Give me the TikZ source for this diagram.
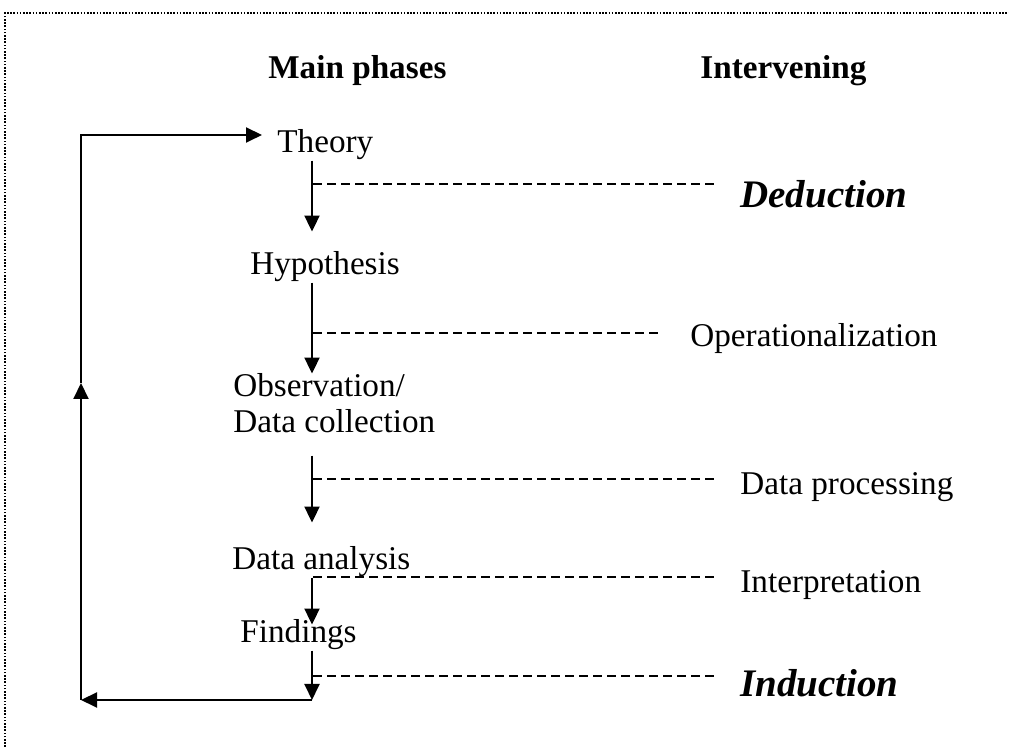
\documentclass[tikz,border=0pt]{standalone}
\usepackage{fontspec}
\setmainfont{Liberation Serif}
\usetikzlibrary{arrows.meta}

\begin{document}
\begin{tikzpicture}[x=0.5pt,y=-0.5pt,
    phase/.style={inner sep=0pt,anchor=base west,font=\fontsize{16.6}{18}\selectfont},
    head/.style={phase,font=\fontsize{16.6}{18}\selectfont\bfseries},
    act/.style={inner ysep=0pt,inner xsep=11pt,anchor=base west,font=\fontsize{16.6}{18}\selectfont},
    keyact/.style={act,font=\fontsize{19.5}{22}\selectfont\bfseries\itshape},
    flow/.style={line width=1pt,-{Triangle[length=8pt,width=7.5pt]}},
    gap/.style={line width=0.7pt,dash pattern=on 4.5pt off 2.5pt},
    frame/.style={line width=0.9pt,dash pattern=on 0.8pt off 0.8pt}]
        \useasboundingbox (0,0) rectangle (1009,747);
        \draw[frame] (5,747) -- (5,13) -- (1009,13);

        \node[head] (mainhd) at (268,79) {Main phases};
        \node[head] (inthd) at (700,79) {Intervening};

        \node[phase] (theory) at (277,153) {Theory};
        \node[phase] (hyp) at (250,275) {Hypothesis};
        \node[phase,align=left] (obs) at (233,433) {Observation/\\Data collection};
        \node[phase] (analysis) at (232,570) {Data analysis};
        \node[phase] (findings) at (240,643) {Findings};

        \node[keyact] (ded) at (718,208) {Deduction};
        \node[act] (oper) at (668,347) {Operationalization};
        \node[act] (proc) at (718,495) {Data processing};
        \node[act] (interp) at (718,593) {Interpretation};
        \node[keyact] (ind) at (718,697) {Induction};

        \coordinate (col) at (312,0);
        \draw[flow,shorten >=10pt] (theory.south -| col) -- (hyp.north -| col);
        \draw[flow] (hyp.south -| col) -- (obs.north -| col);
        \draw[flow,shorten <=11pt,shorten >=12pt] (obs.south -| col) -- (analysis.north -| col);
        \draw[flow,shorten >=-2.5pt] (analysis.south -| col) -- (findings.north -| col);

        \foreach \y/\n/\s in {184/ded/0,333/oper/4,479/proc/0,577/interp/0,676/ind/0} {
          \draw[gap,shorten >=\s pt] (313,\y) -- (\n.west |- 313,\y);
        }

        \coordinate (corner) at (312,700);
        \coordinate (loopbot) at (81,700);
        \coordinate (loopmid) at (81,383);
        \coordinate (looptop) at (81,135);
        \draw[flow] (findings.south -| col) -- (corner);
        \draw[flow] (corner) -- (loopbot);
        \draw[flow] (loopbot) -- (loopmid);
        \draw[flow,shorten >=7.5pt] (loopmid) -- (looptop) -- (looptop -| theory.west);
      \end{tikzpicture}
\end{document}
